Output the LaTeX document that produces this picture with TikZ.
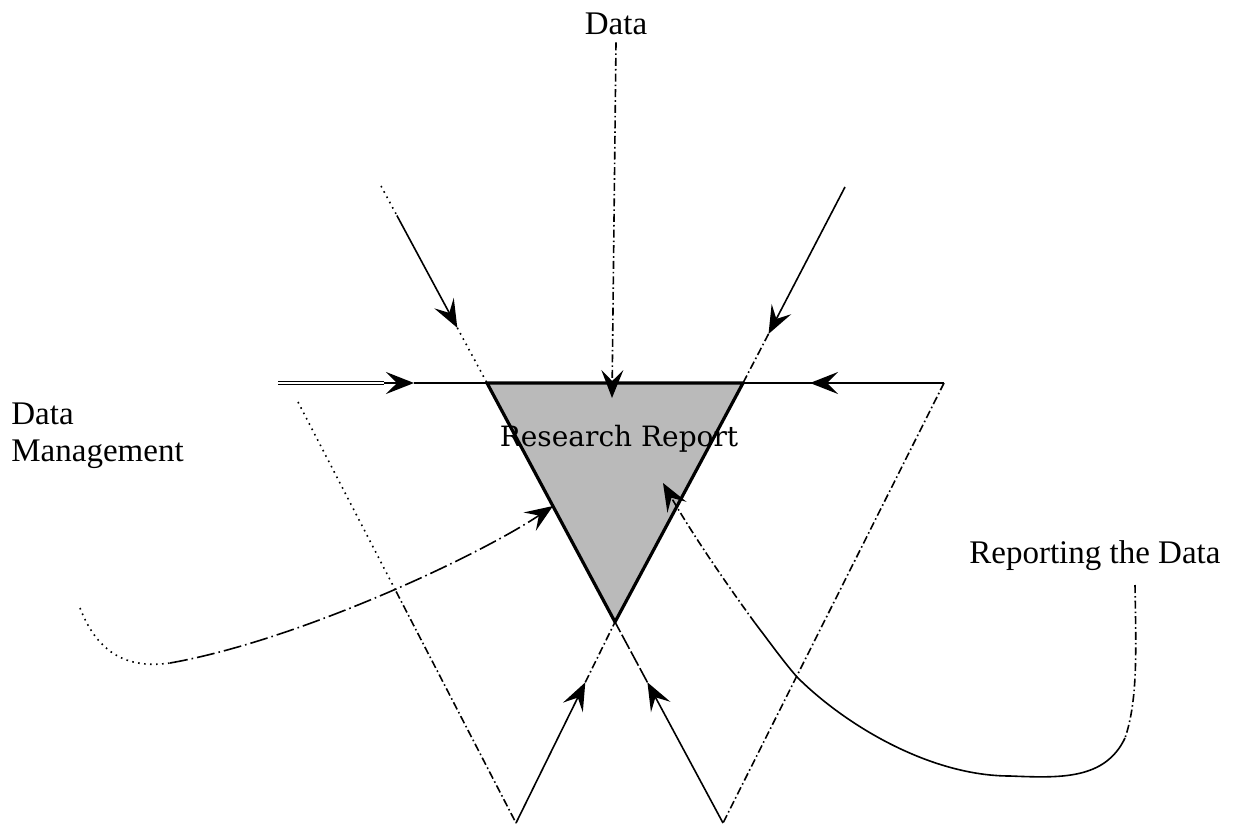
\documentclass[tikz,border=0pt]{standalone}
\usepackage{fontspec}
\setmainfont{Liberation Serif}
\newfontfamily\slabfont{DejaVu Serif}
\usetikzlibrary{arrows.meta,calc}

\begin{document}
\begin{tikzpicture}[x=0.5pt,y=-0.5pt,
  lbl/.style={font=\fontsize{16.5}{18.5}\selectfont},
  thinline/.style={line width=0.8pt},
  tip/.style={-{Stealth[length=14pt,width=11pt,inset=5.5pt]}},
  flow/.style={thinline,tip},
  dotline/.style={thinline,dash pattern=on 0.8pt off 2.2pt},
  dashdotline/.style={thinline,dash pattern=on 4pt off 1.5pt on 0.8pt off 1.5pt},
  longdashdot/.style={thinline,dash pattern=on 9pt off 2pt on 0.8pt off 2pt},
  dashline/.style={thinline,dash pattern=on 8pt off 1.5pt},
  dblline/.style={double,line width=0.5pt,double distance=0.8pt},
  mainline/.style={line width=1.3pt},
  reportedge/.style={line width=1.6pt,line join=round},
  reportfill/.style={fill=black!27}]
\useasboundingbox (0,0) rectangle (1241,829);

% main points
\coordinate (lineL) at (278,383);
\coordinate (dblEnd) at (384,383);
\coordinate (arrL) at (414,383);
\coordinate (arrR) at (810,383);
\coordinate (lineR) at (944,383);
\coordinate (triTL) at (487,383);
\coordinate (triTR) at (743,383);
\coordinate (triAp) at (615,622);
\coordinate (dataTip) at (612,398);
\coordinate (lTop) at (381,186);
\coordinate (rTop) at (845,187);
\coordinate (vL) at (516,823);
\coordinate (vR) at (723,823);
\coordinate (armL) at (298,402);
\coordinate (lSolid) at ($(lTop)!0.15!(triTL)$);
\coordinate (lArr) at ($(lTop)!0.72!(triTL)$);
\coordinate (rArr) at ($(rTop)!0.75!(triTR)$);
\coordinate (vLArr) at ($(vL)!0.7!(triAp)$);
\coordinate (vRArr) at ($(vR)!0.7!(triAp)$);
\coordinate (armMid) at ($(armL)!0.45!(vL)$);
\coordinate (mgmtStart) at (80,608);
\coordinate (mgmtLow) at (170,663);
\coordinate (mgmtTip) at (553,506);
\coordinate (repStart) at (1135,585);
\coordinate (repTurn) at (1125,738);
\coordinate (repLow) at (1010,776);
\coordinate (repCross) at (797,677);
\coordinate (repMid) at (755,623);
\coordinate (repTip) at (663,483);

% labels
\node[lbl,anchor=base] (dataLbl) at (616,35) {Data};
\node[lbl,anchor=base west,align=left,inner sep=0pt] (mgmtLbl) at (11,461) {Data\\Management};
\node[lbl,anchor=base west,inner sep=0pt] (repLbl) at (969,563) {Reporting the Data};

\fill[reportfill] (triTL) -- (triTR) -- (triAp) -- cycle;

% horizontal line
\draw[dblline] (lineL) -- (dblEnd);
\draw[flow] (dblEnd) -- (arrL);
\draw[mainline] (arrL) -- (lineR);
\draw[flow] (lineR) -- (arrR);
\draw[dashdotline,tip] (dataLbl.south) -- (dataTip);

% upper diagonals
\draw[dotline] (lTop) -- (lSolid);
\draw[flow] (lSolid) -- (lArr);
\draw[dotline] (lArr) -- (triTL);
\draw[flow] (rTop) -- (rArr);
\draw[dashdotline] (rArr) -- (triTR);

\draw[reportedge] (triTL) -- (triTR) -- (triAp) -- cycle;

% lower V's
\draw[flow] (vL) -- (vLArr);
\draw[dashdotline] (vLArr) -- (triAp);
\draw[flow] (vR) -- (vRArr);
\draw[dashline] (vRArr) -- (triAp);
\draw[dotline] (armL) -- (armMid);
\draw[dashdotline] (armMid) -- (vL);
\draw[dashdotline] (lineR) -- (vR);

% curves
\draw[dotline] (mgmtStart) .. controls (100,660) and (135,668) .. (mgmtLow);
\draw[longdashdot,tip] (mgmtLow) .. controls (300,640) and (480,555) .. (mgmtTip);
\draw[dashdotline] (repStart) .. controls (1136,650) and (1138,700) .. (repTurn);
\draw[thinline] (repTurn) .. controls (1105,780) and (1060,778) .. (repLow)
  .. controls (930,776) and (845,725) .. (repCross)
  .. controls (783,661) and (768,640) .. (repMid);
\draw[dashdotline,tip] (repMid) .. controls (720,575) and (690,530) .. (repTip);

\node[font=\slabfont\fontsize{14}{16}\selectfont,anchor=base,inner sep=0pt] (reportLbl) at (619,446) {Research Report};
\end{tikzpicture}
\end{document}
